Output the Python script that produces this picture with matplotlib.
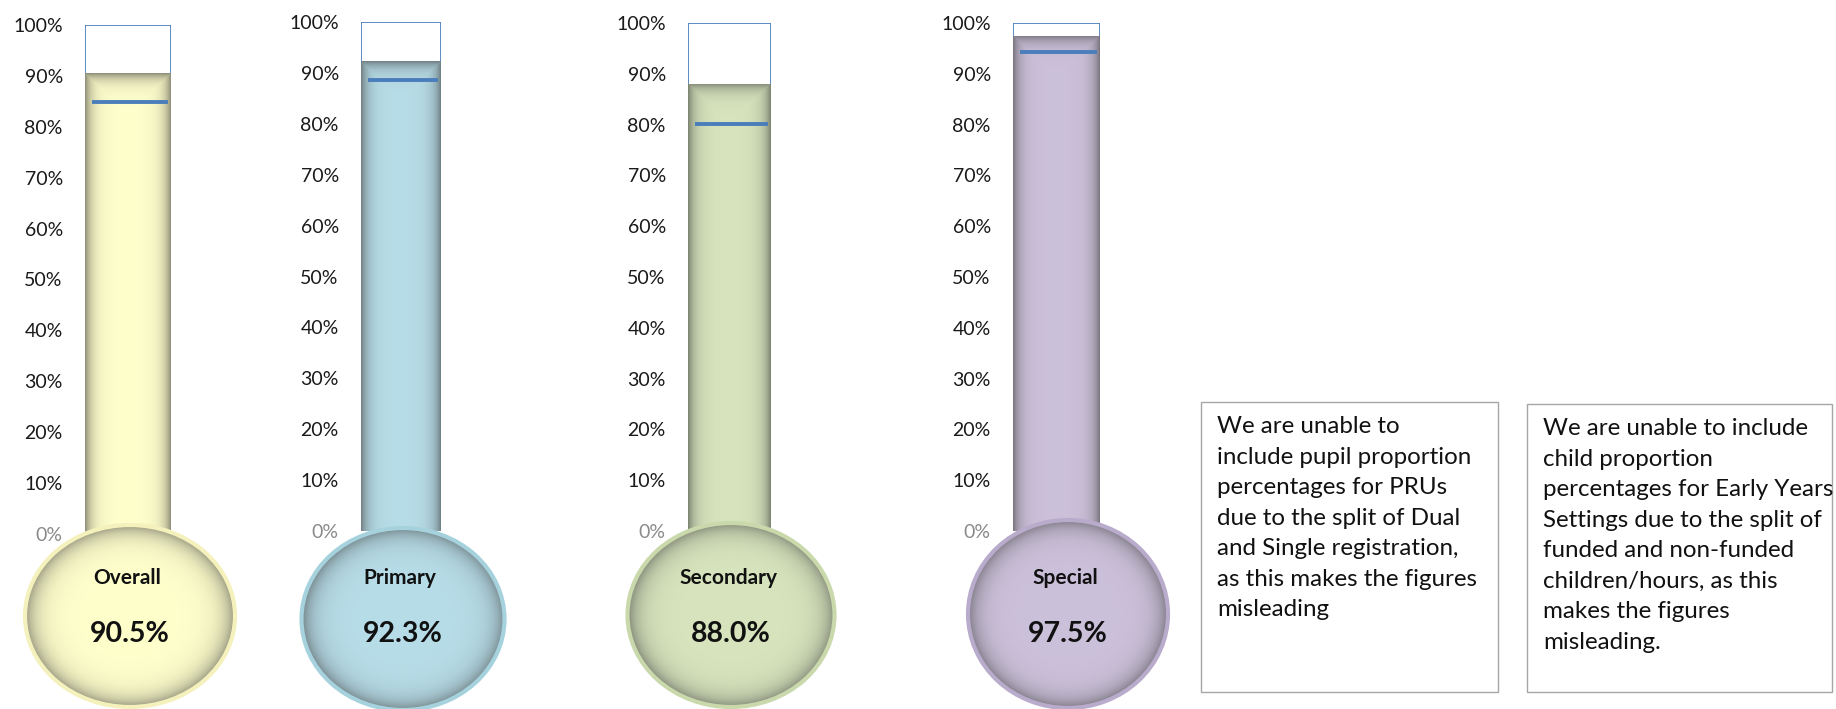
import numpy as np
import matplotlib
matplotlib.use("Agg")
import matplotlib.pyplot as plt
from matplotlib.patches import Ellipse, Rectangle
from matplotlib.colors import to_rgb

plt.rcParams['font.family'] = ['Lato', 'DejaVu Sans']

# ---- data ----
categories = ["Overall", "Primary", "Secondary", "Special"]
values = [90.5, 92.3, 88.0, 97.5]
targets = [84.8, 88.6, 80.2, 94.2]
tick_values = list(range(0, 101, 10))
tick_labels = [f"{v}%" for v in tick_values]
notes = [
    "We are unable to\ninclude pupil proportion\npercentages for PRUs\n"
    "due to the split of Dual\nand Single registration,\nas this makes the figures\nmisleading",
    "We are unable to include\nchild proportion\npercentages for Early Years\n"
    "Settings due to the split of\nfunded and non-funded\nchildren/hours, as this\nmakes the figures\nmisleading.",
]

# ---- styling ----
fill_colors = ["#FFFFCC", "#B7DDE8", "#D7E4BD", "#CCC1DA"]
ring_colors = ["#F4F1BC", "#A6D2DE", "#C9D9AC", "#B9ABCB"]
outline_color = "#4F81BD"
target_color = "#4A7EBB"

W, H = 1836, 709
fig = plt.figure(figsize=(W / 100, H / 100), dpi=100)

# tube geometry in pixels: left, right, y of 100%, y of 0%
tubes = [(85, 171, 25, 534), (361, 441, 22, 531), (688, 771, 23, 531), (1013, 1100, 23, 531)]
# bulb geometry in pixels: centre x, centre y, width, height
bulbs = [(130, 616, 210, 182), (403, 619, 203, 182), (731, 615, 207, 184), (1068, 614, 200, 188)]
target_inset = (0.085, 0.04)

DARK = np.array(to_rgb("#3c3c3c"))


def shaded_rect(nx, ny, base, width_px=7.0, strength=0.6):
    base = np.array(to_rgb(base))
    xs = np.arange(nx) + 0.5
    ys = np.arange(ny) + 0.5
    dx = np.minimum(xs, nx - xs)[None, :]
    dy = ys[:, None]
    d = np.minimum(dx, dy)
    k = strength * np.exp(-d / width_px)
    img = base[None, None, :] * (1 - k[..., None]) + DARK[None, None, :] * k[..., None]
    return np.clip(img, 0, 1)


def shaded_ellipse(nx, ny, base, width_px=10.0, strength=0.55):
    base = np.array(to_rgb(base))
    xs = (np.arange(nx) + 0.5) / nx * 2 - 1
    ys = (np.arange(ny) + 0.5) / ny * 2 - 1
    r = np.sqrt(xs[None, :] ** 2 + ys[:, None] ** 2)
    d = np.clip(1 - r, 0, None) * min(nx, ny) / 2
    k = strength * np.exp(-d / width_px)
    img = base[None, None, :] * (1 - k[..., None]) + DARK[None, None, :] * k[..., None]
    return np.clip(img, 0, 1)


for i, (cat, val, tgt) in enumerate(zip(categories, values, targets)):
    left, right, ytop, ybot = tubes[i]
    ax = fig.add_axes([left / W, 1 - ybot / H, (right - left) / W, (ybot - ytop) / H])
    ax.set_xlim(-0.5, 0.5)
    ax.set_ylim(0, 100)
    ax.patch.set_visible(False)
    for s in ax.spines.values():
        s.set_visible(False)
    ax.set_xticks([])
    ax.set_yticks(tick_values)
    ax.set_yticklabels(tick_labels)
    ax.tick_params(axis="y", length=0, pad=16, labelsize=14, labelcolor="#1a1a1a")
    ax.get_yticklabels()[0].set_color("#8a8a8a")

    # empty glass
    ax.bar(0, 100, width=1.0, color="white", edgecolor=outline_color, linewidth=1.3, zorder=1)
    # filled column
    bar = ax.bar(0, val, width=1.0, color=fill_colors[i], edgecolor="none", zorder=2)[0]
    nx = right - left
    ny = max(int(round(val / 100 * (ybot - ytop))), 2)
    im = ax.imshow(shaded_rect(nx, ny, fill_colors[i]), extent=(-0.5, 0.5, 0, val),
                   aspect="auto", origin="upper", interpolation="bilinear", zorder=3)
    im.set_clip_path(bar)
    # target marker
    ax.hlines(tgt, -0.5 + target_inset[0], 0.5 - target_inset[1], color=target_color,
              linewidth=2.8, zorder=4)

# overlay in pixel coordinates for bulbs and notes
ov = fig.add_axes([0, 0, 1, 1], zorder=5)
ov.axis("off")
ov.patch.set_visible(False)

for i, (cat, val) in enumerate(zip(categories, values)):
    cx, cy, bw, bh = bulbs[i]
    e_clip = Ellipse((cx, cy), bw, bh, facecolor=fill_colors[i], edgecolor="none", zorder=1)
    ov.add_patch(e_clip)
    img = shaded_ellipse(bw, bh, fill_colors[i])
    im = ov.imshow(img, extent=(cx - bw / 2, cx + bw / 2, cy + bh / 2, cy - bh / 2),
                   aspect="auto", origin="upper", interpolation="bilinear", zorder=2)
    im.set_clip_path(e_clip)
    ov.add_patch(Ellipse((cx, cy), bw, bh, facecolor="none", edgecolor=ring_colors[i],
                         linewidth=3.0, zorder=3))
    ov.text(cx - 3, 578, cat, ha="center", va="center", fontsize=15, fontweight="bold",
            color="#111111", zorder=4)
    ov.text(cx, 634, f"{val:.1f}%", ha="center", va="center", fontsize=20.5,
            fontweight="bold", color="#111111", zorder=4)

# explanatory notes
boxes = [(1201, 402, 297, 290), (1527, 404, 305, 288)]
for (bx, by, bw, bh), txt in zip(boxes, notes):
    ov.add_patch(Rectangle((bx, by), bw, bh, facecolor="white", edgecolor="#A6A6A6",
                           linewidth=1.0, zorder=1))
    ov.text(bx + 16, by + 14, txt, ha="left", va="top", fontsize=17.4, linespacing=1.56,
            color="#111111", zorder=2)

ov.set_xlim(0, W)
ov.set_ylim(H, 0)

fig.savefig("out.png", dpi=100)
